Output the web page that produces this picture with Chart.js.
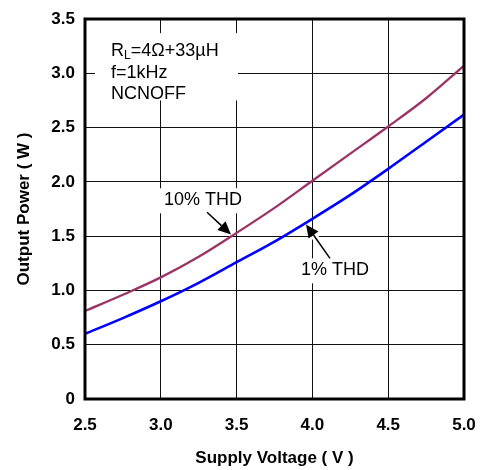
<!DOCTYPE html>
<html>
<head>
<meta charset="utf-8">
<script src="https://cdn.jsdelivr.net/npm/chart.js@4"></script>
<style>
html,body{margin:0;padding:0;background:#fff;}
#c{display:block;}
</style>
</head>
<body>
<canvas id="c" width="484" height="470"></canvas>
<script>
// Data
const voltage = [2.5, 2.75, 3.0, 3.25, 3.5, 3.75, 4.0, 4.25, 4.5, 4.75, 5.0];
const thd10 = [0.81, 0.96, 1.12, 1.31, 1.53, 1.76, 2.01, 2.26, 2.51, 2.77, 3.07];
const thd1 = [0.60, 0.745, 0.90, 1.07, 1.26, 1.45, 1.66, 1.88, 2.12, 2.37, 2.62];
const seriesLabels = ['10% THD', '1% THD'];
const xTitle = 'Supply Voltage ( V )';
const yTitle = 'Output Power ( W )';
const infoLines = ['=4\u03A9+33\u00B5H', 'f=1kHz', 'NCNOFF'];

const FONT = '"Liberation Sans", Arial, sans-serif';

function arrow(ctx, x1, y1, x2, y2) {
  const ang = Math.atan2(y2 - y1, x2 - x1);
  const hl = 13, hw = 6;
  const bx = x2 - hl * Math.cos(ang), by = y2 - hl * Math.sin(ang);
  ctx.save();
  ctx.strokeStyle = '#fff';
  ctx.lineWidth = 7;
  ctx.beginPath(); ctx.moveTo(x1, y1); ctx.lineTo(bx, by); ctx.stroke();
  ctx.restore();
  ctx.strokeStyle = '#000';
  ctx.lineWidth = 1.5;
  ctx.beginPath(); ctx.moveTo(x1, y1); ctx.lineTo(bx, by); ctx.stroke();
  ctx.fillStyle = '#000';
  ctx.beginPath();
  ctx.moveTo(x2, y2);
  ctx.lineTo(bx + hw * Math.sin(ang), by - hw * Math.cos(ang));
  ctx.lineTo(bx - hw * Math.sin(ang), by + hw * Math.cos(ang));
  ctx.closePath();
  ctx.fill();
}

const annotPlugin = {
  id: 'annot',
  beforeDatasetsDraw(chart) {
    const ctx = chart.ctx;
    const xs = chart.scales.x, ys = chart.scales.y;
    const X = v => xs.getPixelForValue(v), Y = v => ys.getPixelForValue(v);
    ctx.save();
    // info box
    ctx.fillStyle = '#fff';
    ctx.fillRect(X(2.566), Y(3.37), X(3.509) - X(2.566), Y(2.75) - Y(3.37));
    ctx.fillStyle = '#000';
    ctx.font = '18px ' + FONT;
    ctx.textBaseline = 'middle';
    ctx.textAlign = 'left';
    const lx = X(2.672);
    const ly = [Y(3.206), Y(3.004), Y(2.811)];
    ctx.fillText('R', lx, ly[0]);
    const rw = ctx.measureText('R').width;
    ctx.font = '12px ' + FONT;
    ctx.fillText('L', lx + rw, ly[0] + 5);
    const lw = ctx.measureText('L').width;
    ctx.font = '18px ' + FONT;
    ctx.fillText(infoLines[0], lx + rw + lw, ly[0]);
    ctx.fillText(infoLines[1], lx, ly[1]);
    ctx.fillText(infoLines[2], lx, ly[2]);

    // 10% THD label
    ctx.textAlign = 'center';
    ctx.fillStyle = '#fff';
    ctx.fillRect(X(3.278) - 45, Y(1.83) - 12, 90, 25);
    ctx.fillStyle = '#000';
    ctx.fillText(seriesLabels[0], X(3.278), Y(1.83));
    arrow(ctx, X(3.305), Y(1.72), X(3.463), Y(1.516));

    // 1% THD label
    ctx.fillStyle = '#fff';
    ctx.fillRect(X(4.149) - 38, Y(1.185) - 12, 76, 25);
    ctx.fillStyle = '#000';
    ctx.fillText(seriesLabels[1], X(4.149), Y(1.185));
    arrow(ctx, X(4.116), Y(1.295), X(3.958), Y(1.608));
    ctx.restore();
  },
  afterDraw(chart) {
    const ctx = chart.ctx;
    const a = chart.chartArea;
    ctx.save();
    ctx.strokeStyle = '#000';
    ctx.lineWidth = 3;
    ctx.strokeRect(a.left, a.top, a.right - a.left, a.bottom - a.top);
    ctx.restore();
  }
};

const tickFont = { family: FONT, size: 17, weight: 'bold' };
const titleFont = { family: FONT, size: 17, weight: 'bold' };

new Chart(document.getElementById('c'), {
  type: 'line',
  data: {
    datasets: [
      {
        label: seriesLabels[0],
        data: voltage.map((v, i) => ({ x: v, y: thd10[i] })),
        borderColor: '#9b3366',
        borderWidth: 2.3,
        pointRadius: 0,
        cubicInterpolationMode: 'monotone',
        fill: false
      },
      {
        label: seriesLabels[1],
        data: voltage.map((v, i) => ({ x: v, y: thd1[i] })),
        borderColor: '#0000ff',
        borderWidth: 2.6,
        pointRadius: 0,
        cubicInterpolationMode: 'monotone',
        fill: false
      }
    ]
  },
  options: {
    responsive: false,
    animation: false,
    devicePixelRatio: 1,
    layout: { padding: { left: 0, right: 20, top: 19, bottom: 0 } },
    plugins: { legend: { display: false }, tooltip: { enabled: false } },
    scales: {
      x: {
        type: 'linear',
        min: 2.5, max: 5.0,
        afterFit(s) { s.height = 71; s.paddingLeft = 0; s.paddingRight = 0; },
        ticks: { stepSize: 0.5, callback: v => v.toFixed(1), font: tickFont, color: '#000', padding: 16 },
        grid: { color: '#111', lineWidth: 1, drawTicks: false },
        border: { display: false },
        title: { display: true, text: xTitle, font: titleFont, color: '#000', padding: { top: 0, bottom: 1 } }
      },
      y: {
        type: 'linear',
        min: 0, max: 3.5,
        afterFit(s) { s.width = 85; s.paddingTop = 0; s.paddingBottom = 0; },
        ticks: { stepSize: 0.5, callback: v => (v === 0 ? '0' : v.toFixed(1)), font: tickFont, color: '#000', padding: 10 },
        grid: { color: '#111', lineWidth: 1, drawTicks: false },
        border: { display: false },
        title: { display: true, text: yTitle, font: titleFont, color: '#000', padding: { top: 14, bottom: 0 } }
      }
    }
  },
  plugins: [annotPlugin]
});
</script>
</body>
</html>
